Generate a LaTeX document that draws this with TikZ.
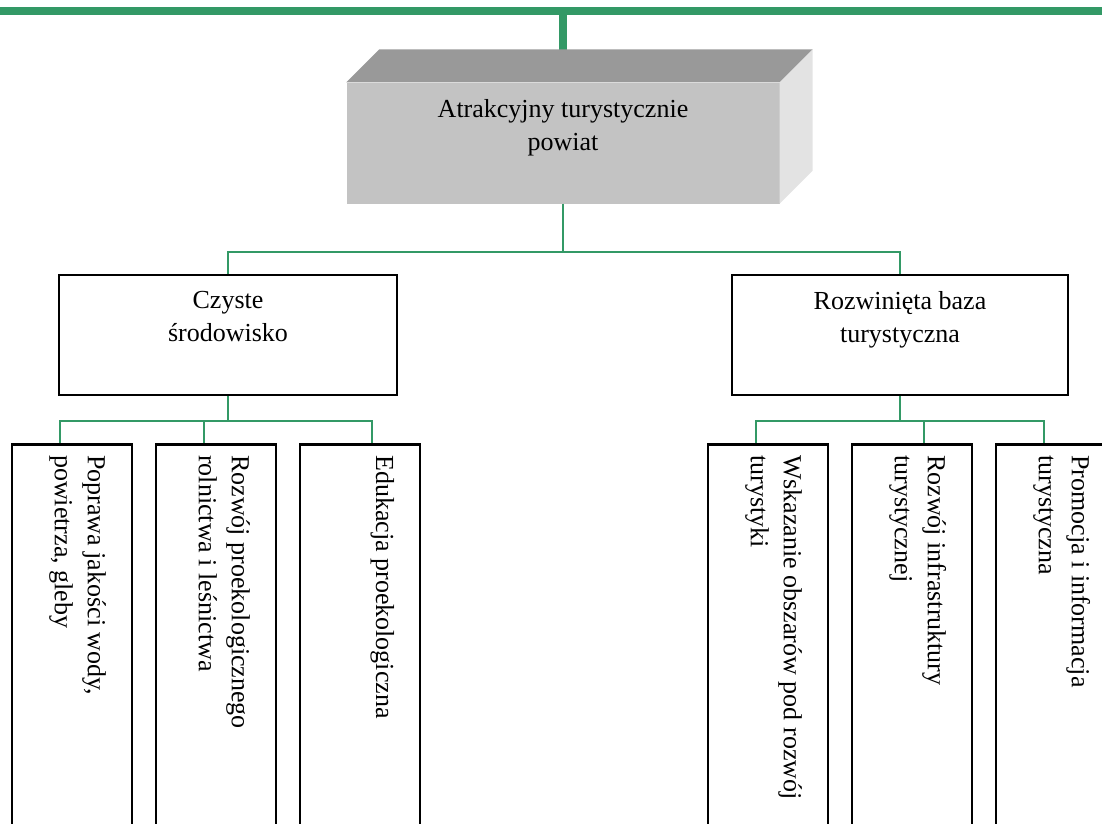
\documentclass[tikz,border=0pt]{standalone}
\usepackage{fontspec}
\setmainfont{Liberation Serif}
\usetikzlibrary{positioning}
\definecolor{linkgreen}{HTML}{339966}
\definecolor{frontgray}{HTML}{C3C3C3}
\definecolor{topgray}{HTML}{999999}
\definecolor{sidegray}{HTML}{E3E3E3}

\begin{document}
\begin{tikzpicture}[
    x=1pt, y=-1pt,
    font=\fontsize{26}{33}\selectfont,
    box/.style={draw=black, line width=2.5pt, inner sep=0pt},
    leaf/.style={box, minimum width=120pt, minimum height=420pt, anchor=north},
    link/.style={draw=linkgreen, line width=2pt},
    bar/.style={draw=linkgreen, line width=8pt},
    caption/.style={anchor=north, align=center, inner sep=0pt},
    vcaption/.style={rotate=-90, anchor=north west, align=left, inner sep=0pt}
  ]
  \clip (0,0) rectangle (1102,823);

  % top bar and stem
  \coordinate (barleft) at (0,11);
  \coordinate (barright) at (1102,11);
  \coordinate (stem) at (563,11);
  \draw[bar] (barleft) -- (barright);
  \draw[bar] (stem) -- ++(0,45);

  % main box (3d)
  \node[fill=frontgray, minimum width=433pt, minimum height=121pt, inner sep=0pt] (powiat) at (563,143) {};
  \fill[topgray] (powiat.north west) -- ++(33,-33) -- ([xshift=33pt,yshift=33pt]powiat.north east) -- (powiat.north east) -- cycle;
  \fill[sidegray] (powiat.north east) -- ++(33,-33) -- ([xshift=33pt,yshift=33pt]powiat.south east) -- (powiat.south east) -- cycle;
  \node[caption] (powiattxt) at ([yshift=-17pt]powiat.north) {Atrakcyjny turystycznie\\powiat};

  % second level
  \node[box, minimum width=338pt, minimum height=120pt] (czyste) at (228,335) {};
  \node[box, minimum width=336pt, minimum height=120pt] (rozw) at (900,335) {};
  \node[caption] (czystetxt) at ([yshift=-17pt]czyste.north) {Czyste\\środowisko};
  \node[caption] (rozwtxt) at ([yshift=-17pt]rozw.north) {Rozwinięta baza\\turystyczna};

  \draw[link] (powiat.south) -- ++(0,48) coordinate (mbus);
  \draw[link] (czyste.north) |- (mbus) -| (rozw.north);

  % leaves, left
  \node[leaf] (popr) at (72,443) {};
  \node[leaf, right=21.5pt of popr] (rolnic) {};
  \node[leaf, right=21.5pt of rolnic] (eduk) {};
  % leaves, right
  \node[leaf] (wskaz) at (768,443) {};
  \node[leaf, right=21.5pt of wskaz] (infra) {};
  \node[leaf, right=21.5pt of infra] (promo) {};

  \node[vcaption] at ([xshift=-27pt,yshift=-12pt]popr.north east) {Poprawa jakości wody,\\powietrza, gleby};
  \node[vcaption] at ([xshift=-27pt,yshift=-12pt]rolnic.north east) {Rozwój proekologicznego\\rolnictwa i leśnictwa};
  \node[vcaption] at ([xshift=-27pt,yshift=-12pt]eduk.north east) {Edukacja proekologiczna};
  \node[vcaption] at ([xshift=-27pt,yshift=-12pt]wskaz.north east) {Wskazanie obszarów pod rozwój\\turystyki};
  \node[vcaption] at ([xshift=-27pt,yshift=-12pt]infra.north east) {Rozwój infrastruktury\\turystycznej};
  \node[vcaption] at ([xshift=-27pt,yshift=-12pt]promo.north east) {Promocja i informacja\\turystyczna};

  % connectors to leaves
  \draw[link] (czyste.south) -- ++(0,25) coordinate (lbus);
  \draw[link] ([xshift=-12pt]popr.north) |- (lbus) -| ([xshift=12pt]eduk.north);
  \draw[link] ([xshift=-12pt]rolnic.north) -- ([xshift=-12pt]rolnic.north |- lbus);
  \draw[link] (rozw.south) -- ++(0,25) coordinate (rbus);
  \draw[link] ([xshift=-12pt]wskaz.north) |- (rbus) -| ([xshift=-12pt]promo.north);
  \draw[link] ([xshift=12pt]infra.north) -- ([xshift=12pt]infra.north |- rbus);
\end{tikzpicture}
\end{document}
